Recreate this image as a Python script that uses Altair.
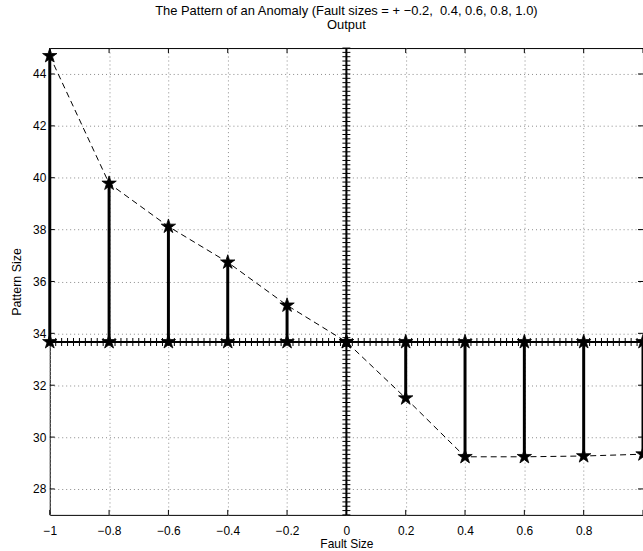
import altair as alt
import pandas as pd

# ---- data ----
fault_sizes = [-1.0, -0.8, -0.6, -0.4, -0.2, 0.0, 0.2, 0.4, 0.6, 0.8, 1.0]
pattern_sizes = [44.70, 39.78, 38.12, 36.74, 35.08, 33.67, 31.50, 29.24, 29.24, 29.27, 29.34]
baseline = 33.67

x_ticks = [-1.0, -0.8, -0.6, -0.4, -0.2, 0.0, 0.2, 0.4, 0.6, 0.8, 1.0]
x_labels = [-1.0, -0.8, -0.6, -0.4, -0.2, 0.0, 0.2, 0.4, 0.6, 0.8]
y_ticks = [28, 30, 32, 34, 36, 38, 40, 42, 44]

# '+' marker positions along the two cross lines
cross_x_marks = [round(-1 + 0.02 * i, 2) for i in range(101)]
cross_y_marks = [27 + i / 6 for i in range(109)]

FONT = "Liberation Sans"
W, H = 596, 469
STAR = ("M0,-1L0.225,-0.309L0.951,-0.309L0.363,0.118L0.588,0.809L0,0.382"
        "L-0.588,0.809L-0.363,0.118L-0.951,-0.309L-0.225,-0.309Z")

xs = alt.Scale(domain=[-1, 1], nice=False, zero=False)
ys = alt.Scale(domain=[27, 45], nice=False, zero=False)

x_axis = alt.Axis(values=x_labels, format="~g", grid=True, gridDash=[1, 3],
                  gridColor="#8a8a8a", gridWidth=1, ticks=False, domain=False,
                  labelPadding=11, titlePadding=2, labelFlush=False,
                  labelFont=FONT, labelFontSize=12, labelColor="black",
                  titleFont=FONT, titleFontSize=12, titleFontWeight="normal",
                  titleColor="black")
y_axis = alt.Axis(values=y_ticks, format="~g", grid=True, gridDash=[1, 3],
                  gridColor="#8a8a8a", gridWidth=1, ticks=False, domain=False,
                  labelPadding=4, titlePadding=9, labelFlush=False,
                  labelFont=FONT, labelFontSize=12, labelColor="black",
                  titleFont=FONT, titleFontSize=12.5, titleFontWeight="normal",
                  titleColor="black")


def X(field="x"):
    return alt.X(f"{field}:Q", scale=xs, axis=x_axis, title="Fault Size")


def Y(field="y"):
    return alt.Y(f"{field}:Q", scale=ys, axis=y_axis, title="Pattern Size")


pts = pd.DataFrame({"x": fault_sizes, "y": pattern_sizes, "base": baseline})
stems = pts[pts["x"] != 0.0]
base_pts = pd.DataFrame({"x": fault_sizes, "y": [baseline] * len(fault_sizes)})
hline = pd.DataFrame({"x": [-1.0, 1.0], "y": [baseline, baseline]})
vline = pd.DataFrame({"x": [0.0, 0.0], "y": [27, 45]})
hmarks = pd.DataFrame({"x": cross_x_marks, "y": [baseline] * len(cross_x_marks)})
vmarks = pd.DataFrame({"x": [0.0] * len(cross_y_marks), "y": cross_y_marks})
xt = pd.DataFrame({"x": x_ticks})
yt = pd.DataFrame({"y": y_ticks})

h_line = alt.Chart(hline).mark_line(color="black", strokeWidth=2).encode(x=X(), y=Y())
v_line = alt.Chart(vline).mark_line(color="black", strokeWidth=2).encode(x=X(), y=Y())
h_marks = alt.Chart(hmarks).mark_tick(orient="vertical", size=8, thickness=1,
                                      color="black", opacity=1).encode(x=X(), y=Y())
v_marks = alt.Chart(vmarks).mark_tick(orient="horizontal", size=8, thickness=1,
                                      color="black", opacity=1).encode(x=X(), y=Y())
stem = alt.Chart(stems).mark_rule(color="black", strokeWidth=3).encode(
    x=X(), y=Y(), y2="base:Q")
dashed = alt.Chart(pts).mark_line(color="black", strokeWidth=1,
                                  strokeDash=[6, 4]).encode(x=X(), y=Y())
stars_top = alt.Chart(pts).mark_point(shape=STAR, size=230, filled=True, color="black",
                                      stroke="black", strokeWidth=0.8, opacity=1).encode(x=X(), y=Y())
stars_base = alt.Chart(base_pts).mark_point(shape=STAR, size=230, filled=True, color="black",
                                            stroke="black", strokeWidth=0.8, opacity=1).encode(x=X(), y=Y())

tick_bottom = alt.Chart(xt).mark_rule(color="black", strokeWidth=1).encode(
    x=X(), y=alt.value(H), y2=alt.value(H - 5))
tick_top = alt.Chart(xt).mark_rule(color="black", strokeWidth=1).encode(
    x=X(), y=alt.value(0), y2=alt.value(5))
tick_left = alt.Chart(yt).mark_rule(color="black", strokeWidth=1).encode(
    y=Y(), x=alt.value(0), x2=alt.value(5))
tick_right = alt.Chart(yt).mark_rule(color="black", strokeWidth=1).encode(
    y=Y(), x=alt.value(W - 5), x2=alt.value(W))

chart = alt.layer(
    tick_bottom, tick_top, tick_left, tick_right,
    h_line, v_line, h_marks, v_marks, stem, dashed, stars_top, stars_base
).properties(
    width=W, height=H,
    background="white",
    autosize=alt.AutoSizeParams(type="none"),
    padding={"left": 50, "top": 47, "right": 0, "bottom": 35},
    title=alt.TitleParams(
        text="The Pattern of an Anomaly (Fault sizes = + \u22120.2,\u00a0 0.4, 0.6, 0.8, 1.0)",
        subtitle="Output", anchor="middle", frame="group", offset=12,
        font=FONT, fontSize=13, fontWeight="normal", color="black",
        subtitleFont=FONT, subtitleFontSize=13, subtitleColor="black",
        subtitlePadding=1),
).configure_view(
    stroke="black", strokeWidth=1
)

chart.save("out.html", embed_options={"renderer": "svg", "actions": False})
